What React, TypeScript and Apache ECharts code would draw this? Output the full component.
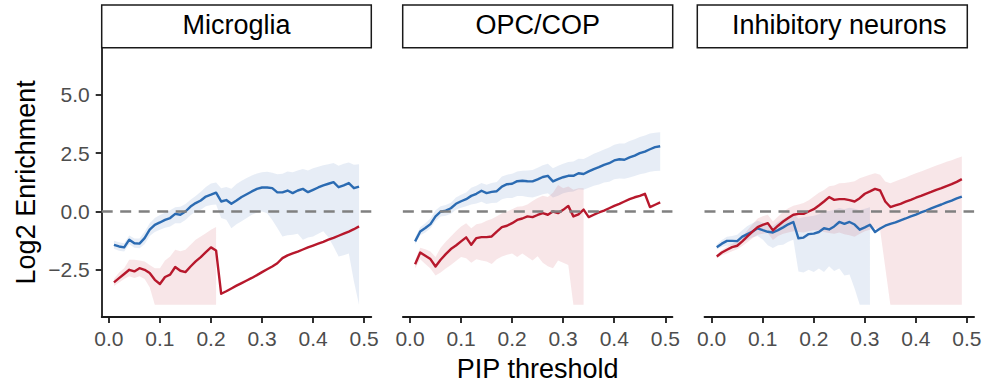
import React, { useEffect, useRef } from 'react';
import * as echarts from 'echarts';

// PIP thresholds (x categories)
const PIP = [0.01,0.02,0.03,0.04,0.05,0.06,0.07,0.08,0.09,0.10,0.11,0.12,0.13,0.14,0.15,0.16,0.17,0.18,0.19,0.20,0.21,0.22,0.23,0.24,0.25,0.26,0.27,0.28,0.29,0.30,0.31,0.32,0.33,0.34,0.35,0.36,0.37,0.38,0.39,0.40,0.41,0.42,0.43,0.44,0.45,0.46,0.47,0.48,0.49];
const PANELS = ['Microglia', 'OPC/COP', 'Inhibitory neurons'];
const X_TICKS = [0, 0.1, 0.2, 0.3, 0.4, 0.5];
const Y_TICKS = [-2.5, 0, 2.5, 5];
const X_MIN = -0.014, X_MAX = 0.514;
const Y_MIN = -4.525, Y_MAX = 7.025;
const REF_Y = 0;
const N = null;

// Microglia
const mgBlue = [-1.43,-1.50,-1.54,-1.21,-1.36,-1.38,-1.14,-0.78,-0.57,-0.47,-0.36,-0.28,-0.10,-0.14,0.00,0.21,0.36,0.47,0.64,0.72,0.81,0.43,0.49,0.33,0.47,0.62,0.74,0.86,0.97,1.03,1.03,1.00,0.82,0.82,0.90,0.79,0.90,0.97,0.83,0.93,1.03,1.12,1.19,1.26,1.04,1.12,1.22,1.00,1.07];
const mgBlueHi = [-1.25,-1.32,-1.36,-1.03,-1.16,-1.16,-0.88,-0.50,-0.28,-0.15,-0.05,0.05,0.18,0.20,0.32,0.50,0.66,0.85,1.05,1.20,1.24,1.00,1.05,0.98,1.18,1.32,1.44,1.54,1.63,1.68,1.70,1.66,1.60,1.62,1.72,1.68,1.76,1.82,1.76,1.86,1.92,1.98,2.03,2.08,1.96,2.05,2.10,2.00,2.03];
const mgBlueLo = [-1.60,-1.68,-1.72,-1.40,-1.55,-1.58,-1.40,-1.05,-0.88,-0.78,-0.70,-0.64,-0.50,-0.50,-0.36,-0.16,0.00,0.08,0.22,0.28,0.30,-0.28,-0.35,-0.72,-0.55,-0.42,-0.28,-0.14,-0.05,0.00,-0.07,-0.36,-0.71,-1.07,-1.02,-1.00,-0.95,-1.21,-1.12,-1.07,-0.95,-0.85,-1.10,-1.50,-1.93,-1.88,-1.80,-3.00,-4.00];
const mgRed = [-3.04,-2.86,-2.68,-2.50,-2.57,-2.43,-2.50,-2.64,-2.93,-3.11,-2.81,-2.71,-2.38,-2.54,-2.60,-2.36,-2.14,-1.96,-1.74,-1.54,-1.67,-3.53,-3.42,-3.30,-3.18,-3.07,-2.96,-2.85,-2.73,-2.60,-2.48,-2.36,-2.22,-2.00,-1.88,-1.80,-1.72,-1.63,-1.54,-1.46,-1.38,-1.30,-1.21,-1.13,-1.04,-0.95,-0.86,-0.76,-0.64];
const mgRedHi = [-2.90,-2.62,-2.43,-2.07,-2.07,-2.10,-2.14,-2.29,-2.43,-2.43,-2.10,-1.93,-1.64,-1.71,-1.64,-1.43,-1.21,-1.07,-0.93,-0.78,-0.67,N,N,N,N,N,N,N,N,N,N,N,N,N,N,N,N,N,N,N,N,N,N,N,N,N,N,N,N];
const mgRedLo = [-3.20,-3.05,-2.90,-2.78,-2.85,-2.78,-2.90,-3.25,-4,-4,-4,-4,-4,-4,-4,-4,-4,-4,-4,-4,-4,N,N,N,N,N,N,N,N,N,N,N,N,N,N,N,N,N,N,N,N,N,N,N,N,N,N,N,N];

// OPC/COP
const opBlue = [-1.28,-0.86,-0.71,-0.54,-0.21,-0.01,0.04,0.14,0.33,0.44,0.53,0.67,0.76,0.89,0.79,0.84,0.87,1.07,1.17,1.19,1.30,1.32,1.30,1.29,1.38,1.48,1.53,1.29,1.39,1.47,1.53,1.53,1.64,1.61,1.72,1.82,1.90,2.00,2.07,2.19,2.24,2.22,2.32,2.40,2.50,2.57,2.67,2.76,2.80];
const opBlueHi = [-1.14,-0.68,-0.50,-0.30,0.05,0.22,0.28,0.38,0.60,0.72,0.82,1.02,1.10,1.22,1.15,1.22,1.26,1.50,1.58,1.62,1.72,1.75,1.76,1.78,1.88,1.98,2.05,1.85,1.96,2.05,2.12,2.14,2.26,2.25,2.36,2.48,2.56,2.66,2.74,2.86,2.92,2.92,3.02,3.10,3.20,3.26,3.34,3.38,3.40];
const opBlueLo = [-1.42,-1.02,-0.90,-0.72,-0.42,-0.22,-0.18,-0.10,0.08,0.16,0.22,0.30,0.34,0.42,0.32,0.36,0.38,0.52,0.58,0.58,0.66,0.66,0.62,0.60,0.66,0.74,0.78,0.60,0.68,0.78,0.84,0.86,0.95,0.93,1.02,1.10,1.16,1.24,1.28,1.38,1.42,1.40,1.46,1.52,1.60,1.64,1.70,1.74,1.75];
const opRed = [-2.26,-1.76,-1.90,-2.04,-2.36,-2.07,-1.83,-1.61,-1.46,-1.28,-1.11,-1.43,-1.14,-1.10,-1.10,-1.07,-0.86,-0.67,-0.61,-0.50,-0.36,-0.30,-0.21,-0.24,-0.15,-0.07,-0.14,0.00,-0.07,0.07,0.24,-0.21,-0.12,0.08,-0.24,-0.14,-0.04,0.04,0.14,0.24,0.33,0.43,0.53,0.61,0.67,0.76,0.19,0.29,0.39];
const opRedHi = [-2.10,-1.55,-1.62,-1.72,-1.95,-1.55,-1.30,-1.07,-0.85,-0.64,-0.50,-0.72,-0.55,-0.50,-0.40,-0.32,-0.20,-0.07,0.00,0.10,0.20,0.22,0.30,0.45,0.58,0.68,0.62,0.80,1.14,1.00,1.07,0.93,1.00,1.00,N,N,N,N,N,N,N,N,N,N,N,N,N,N,N];
const opRedLo = [-2.45,-2.05,-2.25,-2.45,-2.75,-2.62,-2.45,-2.30,-2.12,-1.95,-2.00,-2.20,-2.05,-2.10,-2.15,-2.25,-2.05,-1.93,-1.85,-1.80,-1.95,-1.80,-1.95,-2.10,-1.92,-2.20,-2.35,-2.43,-2.10,-2.20,-2.30,-4,-4,-4,N,N,N,N,N,N,N,N,N,N,N,N,N,N,N];

// Inhibitory neurons
const inBlue = [-1.53,-1.38,-1.26,-1.26,-1.27,-1.08,-0.97,-0.86,-0.72,-0.80,-0.87,-0.90,-0.80,-0.68,-0.55,-0.45,-1.15,-1.12,-0.97,-0.95,-0.88,-0.72,-0.77,-0.64,-0.45,-0.53,-0.45,-0.56,-0.78,-0.68,-0.57,-0.88,-0.73,-0.61,-0.53,-0.47,-0.38,-0.30,-0.21,-0.13,-0.04,0.04,0.13,0.22,0.30,0.39,0.47,0.56,0.64];
const inBlueHi = [-1.42,-1.22,-1.08,-1.05,-1.00,-0.80,-0.62,-0.50,-0.40,-0.48,-0.58,-0.62,-0.45,-0.32,-0.20,-0.10,-0.30,-0.25,-0.22,-0.18,-0.12,0.00,0.02,0.08,0.15,0.10,0.16,0.12,0.05,0.12,0.18,N,N,N,N,N,N,N,N,N,N,N,N,N,N,N,N,N,N];
const inBlueLo = [-1.62,-1.52,-1.47,-1.45,-1.42,-1.30,-1.22,-1.10,-1.05,-1.20,-1.45,-1.57,-1.45,-1.43,-1.30,-1.21,-2.57,-2.62,-2.50,-2.60,-2.45,-2.60,-2.35,-2.55,-2.45,-2.75,-2.70,-3.30,-4,-4,-4,N,N,N,N,N,N,N,N,N,N,N,N,N,N,N,N,N,N];
const inRed = [-1.93,-1.76,-1.64,-1.53,-1.47,-1.28,-1.07,-0.86,-0.67,-0.57,-0.50,-0.81,-0.61,-0.43,-0.28,-0.14,-0.10,-0.10,0.00,0.10,0.26,0.43,0.62,0.50,0.53,0.53,0.49,0.43,0.57,0.76,0.86,0.97,0.90,0.43,0.19,0.26,0.33,0.42,0.50,0.59,0.67,0.76,0.84,0.93,1.00,1.09,1.17,1.27,1.39];
const inRedHi = [-1.86,-1.65,-1.50,-1.38,-1.30,-1.07,-0.80,-0.55,-0.30,-0.20,-0.14,-0.43,-0.22,-0.02,0.14,0.25,0.30,0.36,0.48,0.64,0.80,0.92,1.08,1.12,1.21,1.22,1.25,1.30,1.43,1.50,1.58,1.64,1.58,1.29,1.21,1.30,1.38,1.46,1.55,1.64,1.72,1.80,1.89,1.97,2.05,2.13,2.20,2.28,2.36];
const inRedLo = [-2.00,-1.88,-1.80,-1.70,-1.62,-1.48,-1.32,-1.15,-1.00,-0.95,-0.92,-1.22,-1.05,-0.95,-0.90,-0.85,-0.88,-0.90,-0.85,-0.80,-0.82,-0.88,-0.92,-0.95,-0.90,-0.98,-1.02,-1.08,-0.95,-0.85,-0.78,-0.72,-0.80,-2.40,-4,-4,-4,-4,-4,-4,-4,-4,-4,-4,-4,-4,-4,-4,-4];

const BLUE = '#2b6bb2';
const RED = '#b7182c';
const BLUE_FILL = 'rgba(40,100,175,0.115)';
const RED_FILL = 'rgba(190,30,50,0.11)';
const FONT = '"Liberation Sans", Arial, Helvetica, sans-serif';

const PANEL_DATA = [
  { blue: mgBlue, blueHi: mgBlueHi, blueLo: mgBlueLo, red: mgRed, redHi: mgRedHi, redLo: mgRedLo },
  { blue: opBlue, blueHi: opBlueHi, blueLo: opBlueLo, red: opRed, redHi: opRedHi, redLo: opRedLo },
  { blue: inBlue, blueHi: inBlueHi, blueLo: inBlueLo, red: inRed, redHi: inRedHi, redLo: inRedLo },
];

// layout
const GRID_LEFT = [101.7, 402.85, 704.5];
const GRID_TOP = 47.7;
const GRID_W = 269.6;
const GRID_H = 269.3;
const STRIP_LEFT = [101.7, 402.7, 697.3];
const STRIP_W = [269.6, 270, 270];

function ribbon(i: number, lo: (number | null)[], hi: (number | null)[], fill: string) {
  return {
    type: 'custom',
    xAxisIndex: i,
    yAxisIndex: i,
    z: 1,
    silent: true,
    data: [[0, 0]],
    renderItem: (_params: any, api: any) => {
      const runs: number[][] = [];
      let cur: number[] = [];
      PIP.forEach((_x, k) => {
        if (lo[k] == null || hi[k] == null) {
          if (cur.length) runs.push(cur);
          cur = [];
        } else cur.push(k);
      });
      if (cur.length) runs.push(cur);
      return {
        type: 'group',
        children: runs.map((run) => ({
          type: 'polygon',
          shape: {
            points: [
              ...run.map((k) => api.coord([PIP[k], hi[k]])),
              ...run.slice().reverse().map((k) => api.coord([PIP[k], lo[k]])),
            ],
          },
          style: { fill },
        })),
      };
    },
  };
}

function line(i: number, vals: number[], color: string) {
  return {
    type: 'line',
    xAxisIndex: i,
    yAxisIndex: i,
    z: 3,
    silent: true,
    symbol: 'none',
    showSymbol: false,
    data: PIP.map((x, k) => [x, vals[k]]),
    lineStyle: { color, width: 2.4, join: 'round', cap: 'butt' },
  };
}

export default function App() {
  const ref = useRef<HTMLDivElement>(null);
  useEffect(() => {
    if (!ref.current) return;
    const chart = echarts.init(ref.current, null, { renderer: 'svg' });
    const axisColor = '#1a1a1a';
    const grid = GRID_LEFT.map((left) => ({ left, top: GRID_TOP, width: GRID_W, height: GRID_H }));
    const xAxis = GRID_LEFT.map((_l, i) => ({
      type: 'value',
      gridIndex: i,
      min: X_MIN,
      max: X_MAX,
      axisLine: { show: true, onZero: false, lineStyle: { color: axisColor, width: 1.8 } },
      axisTick: { show: true, customValues: X_TICKS, length: 6, lineStyle: { color: axisColor, width: 1.8 } },
      axisLabel: {
        customValues: X_TICKS,
        formatter: (v: number) => v.toFixed(1),
        color: '#4d4d4d',
        fontSize: 21,
        fontFamily: FONT,
        margin: 11,
      },
      splitLine: { show: false },
    }));
    const yAxis = GRID_LEFT.map((_l, i) => ({
      type: 'value',
      gridIndex: i,
      min: Y_MIN,
      max: Y_MAX,
      axisLine: { show: i === 0, onZero: false, lineStyle: { color: axisColor, width: 1.8 } },
      axisTick: { show: i === 0, customValues: Y_TICKS, length: 6, lineStyle: { color: axisColor, width: 1.8 } },
      axisLabel: {
        show: i === 0,
        customValues: Y_TICKS,
        formatter: (v: number) => (v < 0 ? '\u2212' + Math.abs(v).toFixed(1) : v.toFixed(1)),
        color: '#4d4d4d',
        fontSize: 21,
        fontFamily: FONT,
        margin: 12,
      },
      splitLine: { show: false },
    }));
    const series: any[] = [];
    PANEL_DATA.forEach((p, i) => {
      series.push(ribbon(i, p.blueLo, p.blueHi, BLUE_FILL));
      series.push(ribbon(i, p.redLo, p.redHi, RED_FILL));
      series.push(line(i, p.blue, BLUE));
      series.push(line(i, p.red, RED));
      series.push({
        type: 'line',
        xAxisIndex: i,
        yAxisIndex: i,
        z: 5,
        silent: true,
        symbol: 'none',
        data: [[X_MIN, REF_Y], [X_MAX, REF_Y]],
        lineStyle: { color: '#808080', width: 2.3, type: [11, 7.5] },
      });
    });
    const graphic: any[] = [];
    PANELS.forEach((name, i) => {
      graphic.push({
        type: 'rect',
        shape: { x: STRIP_LEFT[i], y: 5, width: STRIP_W[i], height: 42.7 },
        style: { fill: '#ffffff', stroke: axisColor, lineWidth: 1.5 },
      });
      graphic.push({
        type: 'text',
        x: GRID_LEFT[i] + GRID_W / 2,
        y: 24.5,
        style: { text: name, fontSize: 27, fontFamily: FONT, fill: '#000', align: 'center', verticalAlign: 'middle' },
      });
    });
    graphic.push({
      type: 'text',
      x: GRID_LEFT[1] + GRID_W / 2,
      y: 368.5,
      style: { text: 'PIP threshold', fontSize: 27, fontFamily: FONT, fill: '#000', align: 'center', verticalAlign: 'middle' },
    });
    graphic.push({
      type: 'text',
      x: 26,
      y: GRID_TOP + GRID_H / 2,
      rotation: Math.PI / 2,
      style: { text: 'Log2 Enrichment', fontSize: 27, fontFamily: FONT, fill: '#000', align: 'center', verticalAlign: 'middle' },
    });
    chart.setOption({
      animation: false,
      backgroundColor: '#ffffff',
      grid,
      xAxis,
      yAxis,
      series,
      graphic,
    });
    return () => chart.dispose();
  }, []);
  return <div ref={ref} style={{ position: 'fixed', left: 0, top: 0, width: 987, height: 385 }} />;
}
